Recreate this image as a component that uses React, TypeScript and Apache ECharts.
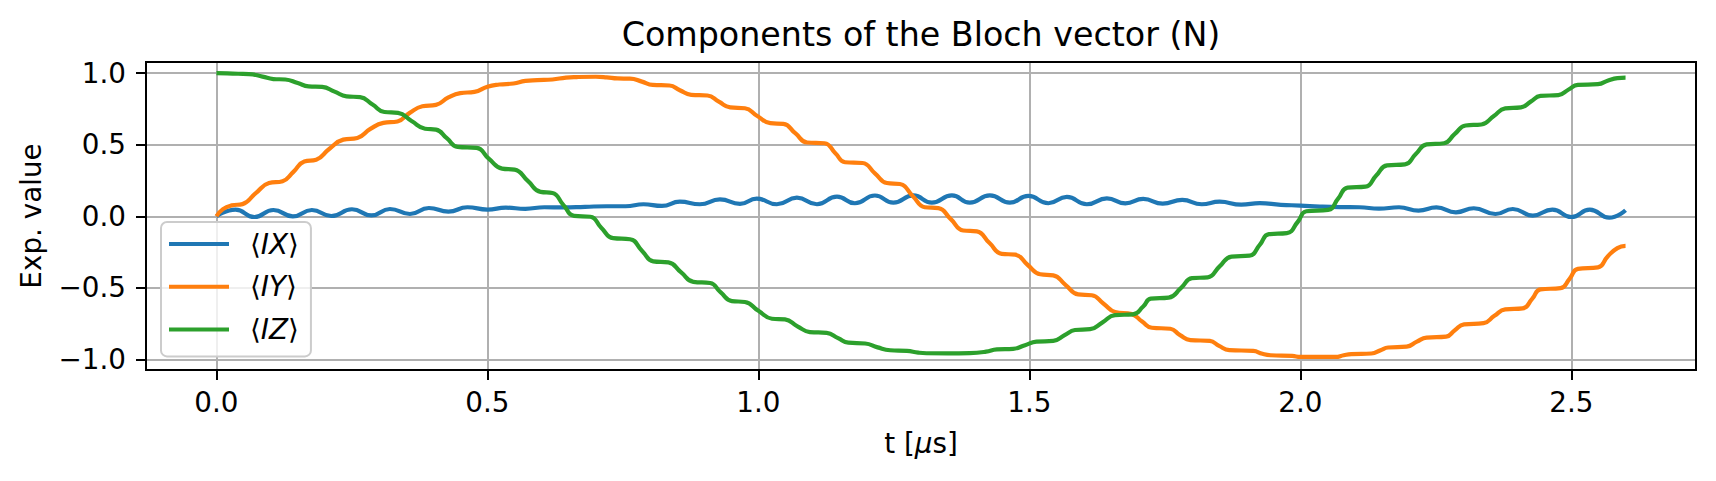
import React, { useEffect, useRef } from "react";
import * as echarts from "echarts";

const TITLE = "Components of the Bloch vector (N)";
const X_TICKS = [0, 0.5, 1.0, 1.5, 2.0, 2.5];
const Y_TICKS = [-1.0, -0.5, 0.0, 0.5, 1.0];
const SERIES_NAMES = ["IX", "IY", "IZ"];
const COLORS = ["#1f77b4", "#ff7f0e", "#2ca02c"];

// [t (µs), expectation value]
const IX_DATA = [
  [0, 0.0], [0.035, 0.047], [0.07, -0.005], [0.105, 0.044], [0.141, 0.0], [0.176, 0.044],
  [0.212, 0.002], [0.25, 0.049], [0.286, 0.006], [0.32, 0.051], [0.357, 0.016], [0.392, 0.058],
  [0.428, 0.032], [0.463, 0.063], [0.5, 0.047], [0.534, 0.06], [0.57, 0.052], [0.605, 0.063],
  [0.64, 0.062], [0.68, 0.066], [0.72, 0.07], [0.755, 0.07], [0.788, 0.084], [0.822, 0.072],
  [0.855, 0.102], [0.892, 0.084], [0.929, 0.118], [0.966, 0.086], [0.997, 0.123], [1.034, 0.084],
  [1.071, 0.13], [1.108, 0.084], [1.145, 0.137], [1.178, 0.091], [1.215, 0.145], [1.249, 0.095],
  [1.286, 0.146], [1.32, 0.095], [1.357, 0.146], [1.39, 0.095], [1.427, 0.146], [1.464, 0.095],
  [1.498, 0.142], [1.535, 0.091], [1.569, 0.135], [1.606, 0.084], [1.643, 0.125], [1.677, 0.09],
  [1.71, 0.121], [1.746, 0.088], [1.782, 0.114], [1.818, 0.084], [1.851, 0.102], [1.891, 0.081],
  [1.925, 0.092], [1.964, 0.08], [2.0, 0.075], [2.036, 0.068], [2.073, 0.064], [2.109, 0.063],
  [2.145, 0.053], [2.182, 0.063], [2.218, 0.04], [2.251, 0.062], [2.287, 0.028], [2.32, 0.056],
  [2.36, 0.016], [2.392, 0.051], [2.429, 0.005], [2.465, 0.047], [2.5, -0.005], [2.534, 0.047],
  [2.57, -0.01], [2.6, 0.042],
];

const IY_DATA = [
  [0, 0.0], [0.012, 0.05], [0.028, 0.076], [0.048, 0.085], [0.072, 0.16], [0.097, 0.232],
  [0.122, 0.245], [0.142, 0.31], [0.162, 0.383], [0.184, 0.395], [0.208, 0.47], [0.234, 0.535],
  [0.26, 0.547], [0.284, 0.61], [0.308, 0.652], [0.334, 0.662], [0.356, 0.72], [0.38, 0.768],
  [0.405, 0.778], [0.428, 0.83], [0.45, 0.86], [0.476, 0.868], [0.5, 0.905], [0.522, 0.92],
  [0.548, 0.927], [0.57, 0.945], [0.592, 0.95], [0.62, 0.955], [0.645, 0.968], [0.665, 0.972],
  [0.7, 0.974], [0.72, 0.97], [0.74, 0.962], [0.763, 0.961], [0.785, 0.94], [0.805, 0.917],
  [0.836, 0.913], [0.855, 0.88], [0.876, 0.848], [0.906, 0.843], [0.927, 0.8], [0.948, 0.76],
  [0.975, 0.754], [0.998, 0.7], [1.022, 0.65], [1.046, 0.645], [1.068, 0.58], [1.09, 0.515],
  [1.122, 0.51], [1.142, 0.44], [1.16, 0.377], [1.192, 0.372], [1.215, 0.3], [1.237, 0.232],
  [1.261, 0.225], [1.285, 0.14], [1.307, 0.063], [1.332, 0.057], [1.355, -0.02], [1.378, -0.099],
  [1.403, -0.105], [1.426, -0.185], [1.449, -0.262], [1.474, -0.268], [1.497, -0.34], [1.52, -0.405],
  [1.544, -0.412], [1.567, -0.48], [1.59, -0.545], [1.615, -0.551], [1.637, -0.61], [1.658, -0.668],
  [1.689, -0.683], [1.708, -0.735], [1.726, -0.778], [1.76, -0.785], [1.778, -0.83], [1.797, -0.864],
  [1.833, -0.87], [1.85, -0.905], [1.869, -0.934], [1.913, -0.94], [1.93, -0.96], [1.945, -0.97],
  [1.985, -0.975], [2.0, -0.982], [2.065, -0.982], [2.08, -0.97], [2.094, -0.962], [2.131, -0.958],
  [2.148, -0.935], [2.162, -0.916], [2.196, -0.91], [2.215, -0.875], [2.233, -0.847], [2.269, -0.84],
  [2.285, -0.795], [2.302, -0.755], [2.338, -0.746], [2.358, -0.695], [2.378, -0.65], [2.41, -0.643],
  [2.428, -0.575], [2.443, -0.51], [2.48, -0.502], [2.497, -0.435], [2.512, -0.367], [2.549, -0.357],
  [2.567, -0.28], [2.585, -0.222], [2.6, -0.207],
];

const IZ_DATA = [
  [0, 1.0], [0.02, 0.998], [0.04, 0.995], [0.06, 0.993], [0.085, 0.975], [0.105, 0.958],
  [0.127, 0.955], [0.15, 0.93], [0.17, 0.907], [0.195, 0.903], [0.218, 0.87], [0.24, 0.837],
  [0.265, 0.832], [0.288, 0.78], [0.31, 0.728], [0.335, 0.722], [0.36, 0.665], [0.385, 0.611],
  [0.405, 0.605], [0.425, 0.545], [0.445, 0.484], [0.48, 0.477], [0.503, 0.4], [0.527, 0.333],
  [0.55, 0.326], [0.575, 0.245], [0.598, 0.17], [0.62, 0.163], [0.64, 0.08], [0.66, 0.003],
  [0.69, -0.003], [0.71, -0.08], [0.732, -0.153], [0.763, -0.16], [0.785, -0.24], [0.806, -0.315],
  [0.834, -0.322], [0.857, -0.39], [0.88, -0.458], [0.911, -0.466], [0.93, -0.53], [0.951, -0.592],
  [0.975, -0.598], [1.0, -0.66], [1.025, -0.715], [1.049, -0.72], [1.072, -0.768], [1.095, -0.808],
  [1.126, -0.814], [1.147, -0.85], [1.166, -0.882], [1.197, -0.888], [1.22, -0.915], [1.243, -0.935],
  [1.274, -0.94], [1.295, -0.952], [1.31, -0.956], [1.35, -0.957], [1.39, -0.955], [1.42, -0.945],
  [1.44, -0.929], [1.47, -0.925], [1.492, -0.9], [1.513, -0.875], [1.544, -0.87], [1.565, -0.83],
  [1.584, -0.794], [1.612, -0.788], [1.635, -0.74], [1.658, -0.69], [1.691, -0.685], [1.71, -0.63],
  [1.724, -0.575], [1.757, -0.568], [1.78, -0.5], [1.8, -0.432], [1.829, -0.426], [1.851, -0.35],
  [1.873, -0.281], [1.906, -0.275], [1.925, -0.2], [1.942, -0.125], [1.975, -0.118], [1.995, -0.04],
  [2.011, 0.035], [2.051, 0.045], [2.07, 0.125], [2.087, 0.2], [2.12, 0.207], [2.14, 0.285],
  [2.16, 0.355], [2.193, 0.362], [2.213, 0.435], [2.233, 0.502], [2.265, 0.51], [2.285, 0.575],
  [2.305, 0.634], [2.334, 0.641], [2.357, 0.7], [2.378, 0.753], [2.407, 0.76], [2.425, 0.8],
  [2.443, 0.84], [2.476, 0.846], [2.495, 0.885], [2.512, 0.917], [2.549, 0.922], [2.568, 0.948],
  [2.585, 0.965], [2.6, 0.968],
];

const SERIES_DATA = [IX_DATA, IY_DATA, IZ_DATA];

const FONT = "'DejaVu Sans', sans-serif";
const FS = 27.8;

const fmt = (v: number) => v.toFixed(1).replace("-", "\u2212");

export default function App() {
  const ref = useRef<HTMLDivElement>(null);
  useEffect(() => {
    if (!ref.current) return;
    const chart = echarts.init(ref.current, null, { renderer: "svg" });
    chart.setOption({
      animation: false,
      backgroundColor: "#ffffff",
      title: {
        text: TITLE,
        left: 921,
        top: 18,
        padding: 0,
        textAlign: "center",
        textStyle: { fontFamily: FONT, fontSize: 33.3, fontWeight: "normal", color: "#000" },
      },
      grid: {
        left: 146,
        top: 62,
        width: 1550,
        height: 308,
        containLabel: false,
        outerBoundsMode: "none",
        show: true,
        borderColor: "#000",
        borderWidth: 2,
        backgroundColor: "transparent",
        z: 3,
      },
      legend: {
        orient: "vertical",
        left: 161,
        top: 222,
        padding: [7, 12, 12, 8],
        itemGap: 12.7,
        itemWidth: 60,
        itemHeight: 4,
        icon: "rect",
        selectedMode: false,
        backgroundColor: "rgba(255,255,255,0.8)",
        borderColor: "#cccccc",
        borderWidth: 2,
        borderRadius: 6,
        data: SERIES_NAMES,
        formatter: (name: string) => `\u27e8{i|${name}}\u27e9`,
        textStyle: {
          fontFamily: FONT,
          fontSize: FS,
          lineHeight: 30,
          color: "#000",
          padding: [0, 0, 0, 16],
          rich: {
            i: { fontFamily: FONT, fontSize: FS, fontStyle: "italic", lineHeight: 30, color: "#000" },
          },
        },
      },
      xAxis: {
        type: "value",
        min: -0.13,
        max: 2.73,
        name: "t [{i|\u03bc}s]",
        nameLocation: "middle",
        nameGap: 59,
        nameTextStyle: {
          fontFamily: FONT,
          fontSize: FS,
          color: "#000",
          rich: { i: { fontFamily: FONT, fontSize: FS, fontStyle: "italic", color: "#000" } },
        },
        axisLine: { show: false, onZero: false },
        axisTick: {
          show: true,
          length: 10,
          lineStyle: { color: "#000", width: 2 },
          customValues: X_TICKS,
        },
        axisLabel: {
          customValues: X_TICKS,
          formatter: fmt,
          margin: 18,
          fontFamily: FONT,
          fontSize: FS,
          color: "#000",
        },
        splitLine: { show: true, lineStyle: { color: "#b0b0b0", width: 2 } },
      },
      yAxis: {
        type: "value",
        min: -1.073,
        max: 1.077,
        name: "Exp. value",
        nameLocation: "middle",
        nameRotate: 90,
        nameGap: 101,
        nameTextStyle: { fontFamily: FONT, fontSize: FS, color: "#000" },
        axisLine: { show: false, onZero: false },
        axisTick: {
          show: true,
          length: 10,
          lineStyle: { color: "#000", width: 2 },
          customValues: Y_TICKS,
        },
        axisLabel: {
          customValues: Y_TICKS,
          formatter: fmt,
          margin: 20,
          fontFamily: FONT,
          fontSize: FS,
          color: "#000",
        },
        splitLine: { show: true, lineStyle: { color: "#b0b0b0", width: 2 } },
      },
      series: SERIES_NAMES.map((name, i) => ({
        name,
        type: "line",
        data: SERIES_DATA[i],
        showSymbol: false,
        smooth: 0.5,
        color: COLORS[i],
        lineStyle: { color: COLORS[i], width: 4.2 },
        itemStyle: { color: COLORS[i] },
        emphasis: { disabled: true },
      })),
    });
    return () => chart.dispose();
  }, []);
  return (
    <div
      ref={ref}
      style={{ position: "absolute", left: 0, top: 0, width: 1716, height: 481, background: "#fff" }}
    />
  );
}
